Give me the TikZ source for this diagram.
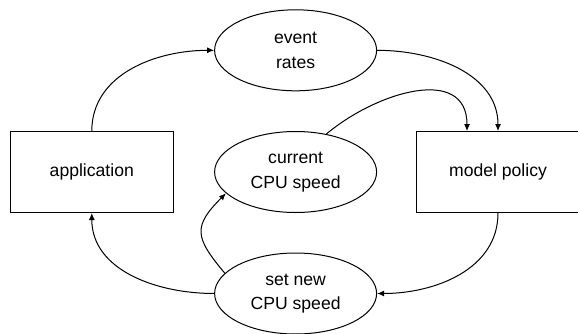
\documentclass[tikz,border=0pt]{standalone}
\usepackage{fontspec}
\setmainfont{Liberation Sans}
\usetikzlibrary{shapes.geometric,arrows.meta}

\begin{document}
\begin{tikzpicture}[x=1pt,y=1pt,
    box/.style={draw,line width=1pt,rectangle,minimum width=163pt,minimum height=81pt,inner sep=0pt},
    oval/.style={draw,line width=1pt,ellipse,minimum width=162pt,minimum height=81pt,inner sep=0pt,align=center},
    arr/.style={line width=1pt,-{Latex[length=7pt,width=6pt]}},
    font=\fontsize{17.6}{24.5}\selectfont]
    \useasboundingbox (0,0) rectangle (578,333);

    \node[box] (app) at (91.8,161) {application};
    \node[box] (model) at (498,161) {model policy};
    \node[oval] (rates) at (295.6,282.7) {event\\rates};
    \node[oval] (cur) at (295.6,161) {current\\CPU speed};
    \node[oval] (setspd) at (295.6,39.5) {set new\\CPU speed};
    \coordinate (mtop) at ([xshift=-31pt]model.north);

    \draw[arr] (app.north) to[out=90,in=180] (rates.west);
    \draw[arr] (rates.east) to[out=0,in=90] (model.north);
    \draw[arr] (cur.51) to[out=40,in=90,looseness=1.2] (mtop);
    \draw[arr] (model.south) to[out=-90,in=0] (setspd.east);
    \draw[arr] (setspd.west) to[out=180,in=-90] (app.south);
    \draw[arr] (setspd.164) to[out=130,in=225,looseness=1.5] (cur.197);
\end{tikzpicture}
\end{document}
